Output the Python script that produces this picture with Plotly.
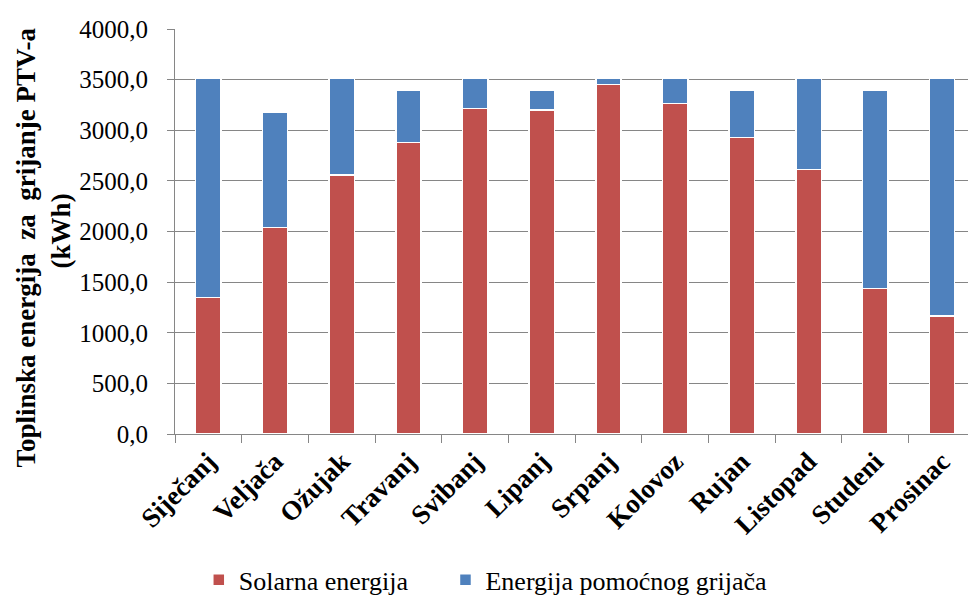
import plotly.graph_objects as go

months = ["Siječanj", "Veljača", "Ožujak", "Travanj", "Svibanj", "Lipanj",
          "Srpanj", "Kolovoz", "Rujan", "Listopad", "Studeni", "Prosinac"]
solar = [1350, 2038, 2558, 2877, 3213, 3200, 3450, 3266, 2927, 2614, 1439, 1165]
auxiliary = [2163, 1135, 955, 523, 300, 200, 63, 247, 473, 899, 1961, 2348]
y_ticks = [0, 500, 1000, 1500, 2000, 2500, 3000, 3500, 4000]
series_names = ["Solarna energija", "Energija pomoćnog grijača"]
y_title_lines = ["Toplinska energija  za  grijanje PTV-a", "(kWh)"]

RED = "#C0504D"
BLUE = "#4F81BD"
FONT = "Liberation Serif"
NB = "\u00a0"

fig = go.Figure()
fig.add_trace(go.Bar(x=months, y=solar, name=series_names[0] + NB * 5,
                     marker=dict(color=RED, line=dict(color="white", width=1.5)),
                     width=0.38))
fig.add_trace(go.Bar(x=months, y=auxiliary, name=series_names[1],
                     marker=dict(color=BLUE, line=dict(color="white", width=1.5)),
                     width=0.38))

title = (y_title_lines[0].replace(" ", NB) + NB * 5 + "<br>" + y_title_lines[1])

fig.add_annotation(
    text=title, textangle=-90, xref="paper", yref="paper",
    x=(43 - 175) / 793, y=0.5, xanchor="center", yanchor="middle",
    showarrow=False, font=dict(family=FONT, size=27, weight="bold", color="black"),
)

fig.update_layout(
    barmode="stack",
    width=968, height=596,
    margin=dict(l=175, r=0, t=29, b=162, autoexpand=False),
    plot_bgcolor="white", paper_bgcolor="white",
    separators=", ",
    font=dict(family=FONT, size=22, color="black"),
    showlegend=True,
    legend=dict(orientation="h", x=0.03, xanchor="left", y=-0.36, yanchor="middle",
                font=dict(family=FONT, size=26), traceorder="normal",
                itemwidth=30),
    xaxis=dict(range=[-0.5, 11.39], tickson="boundaries", ticks="outside", ticklen=8,
               tickcolor="#868686", showline=True, linecolor="#868686", linewidth=1,
               tickangle=-45, tickfont=dict(family=FONT, size=27, weight="bold"),
               showgrid=False, fixedrange=True, automargin=False),
    yaxis=dict(range=[0, 4000], tickvals=y_ticks, tickformat=".1f", ticks="outside",
               ticklen=7, tickcolor="#868686", showline=True, linecolor="#868686",
               linewidth=1, showgrid=True, gridcolor="#868686", gridwidth=1,
               zeroline=False, ticklabelstandoff=14,
               tickfont=dict(family=FONT, size=25),
               automargin=False, fixedrange=True),
)

fig.write_html(
    "out.html",
    config={"displayModeBar": False},
    post_script="document.body.style.margin='0px';document.body.style.overflow='hidden';",
)
